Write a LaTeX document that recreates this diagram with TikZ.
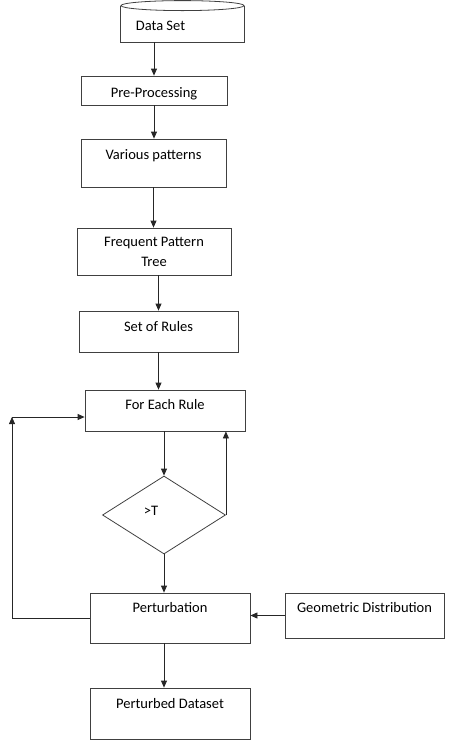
\documentclass[tikz,border=0pt]{standalone}
\usepackage{fontspec}
\setmainfont{Carlito}
\usetikzlibrary{shapes.geometric, arrows.meta, positioning, calc}

\begin{document}
\begin{tikzpicture}[x=1pt, y=-1pt,
    box/.style={draw=black!75, line width=0.8pt, inner xsep=3pt, inner ysep=0pt, align=center, font=\fontsize{14.5}{20}\selectfont},
    arrow/.style={-{Triangle[length=7pt,width=6pt]}, line width=0.8pt, black!85}
]
    \useasboundingbox (0,0) rectangle (453,753);
    % data set drum
    \node[box, draw=none, minimum width=123pt, text height=24pt, text depth=12pt] at (182.5,24) (dataset) {Data Set\hspace{44pt}};
    \draw[black!75, line width=0.8pt] (dataset.north west) -- (dataset.south west) -- (dataset.south east) -- (dataset.north east);
    \draw[black!75, line width=0.8pt] (dataset.north) ellipse [x radius=61.5, y radius=5];
    \node[box, minimum width=146pt, text height=21pt, text depth=8pt] at (154,90.5) (preproc) {Pre-Processing};
    \node[box, minimum width=145pt, text height=20pt, text depth=28pt] at (153.5,163) (patterns) {Various patterns};
    \node[box, minimum width=154pt, minimum height=47pt] at (154,251.5) (freq) {Frequent Pattern\\Tree};
    \node[box, minimum width=159pt, text height=20pt, text depth=21pt] at (158.5,331.5) (rules) {Set of Rules};
    \node[box, minimum width=160pt, text height=19pt, text depth=22pt] at (165,410.5) (foreach) {For Each Rule};
    \node[box, shape=diamond, minimum width=123pt, minimum height=78pt, inner sep=0pt, text height=9pt, text depth=9pt] at (164,515) (test) {>T\hspace{26pt}};
    \node[box, minimum width=160pt, text height=19pt, text depth=31pt] at (170,618) (perturb) {Perturbation};
    \node[box, minimum width=159pt, text height=19pt, text depth=26pt] at (364.5,615.5) (geo) {Geometric Distribution};
    \node[box, minimum width=160pt, text height=20pt, text depth=31pt] at (170,713.5) (perturbed) {Perturbed Dataset};
    \coordinate (loop) at (12,417);
    % main flow
    \draw[arrow] (preproc.north |- dataset.south) -- (preproc.north);
    \draw[arrow] (preproc.south) -- (preproc.south |- patterns.north);
    \draw[arrow] (patterns.south) -- (patterns.south |- freq.north);
    \draw[arrow] (rules.north |- freq.south) -- (rules.north);
    \draw[arrow] (rules.south) -- (rules.south |- foreach.north);
    \draw[arrow] (test.north |- foreach.south) -- (test.north);
    \draw[arrow] (test.east) -- (test.east |- foreach.south);
    \draw[arrow] (test.south) -- (test.south |- perturb.north);
    \draw[arrow] (test.south |- perturb.south) -- (test.south |- perturbed.north);
    \draw[arrow] (geo.west) -- (perturb.east |- geo.west);
    % loop back
    \draw[arrow] (perturb.west) -| (loop);
    \draw[arrow] (loop) -- (loop -| foreach.west);
\end{tikzpicture}
\end{document}
